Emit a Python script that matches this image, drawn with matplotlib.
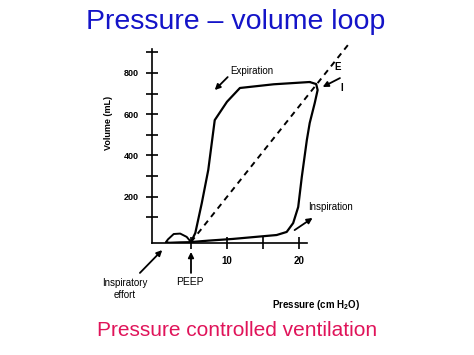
import matplotlib.pyplot as plt

# ---- data (pressure cmH2O, volume mL) ----
insp_p = [5.0, 7.5, 10.8, 14.0, 16.9, 18.3, 19.2, 19.9, 20.4, 21.1, 21.5, 22.2, 22.6, 22.4, 21.5]
insp_v = [-21, -14, -6, 4, 13, 28, 71, 149, 295, 474, 557, 654, 717, 746, 756]
exp_p = [21.5, 16.5, 11.8, 10.0, 8.3, 7.4, 6.5, 5.6, 5.0]
exp_v = [756, 745, 727, 660, 571, 329, 168, 23, -21]
effort_p = [5.0, 3.5, 2.0, 1.5, 1.8, 2.6, 3.5, 4.4, 5.0]
effort_v = [-21, -22, -24, -22, -8, 18, 20, 4, -21]
dash_p = [5.0, 26.8]
dash_v = [-21, 935]

ytick_vals = [100, 200, 300, 400, 500, 600, 700, 800, 900]
ytick_labels = ['', '200', '', '400', '', '600', '', '800', '']
xtick_vals = [5, 10, 15, 20]
xtick_labels = ['', '10', '', '20']

FONT = 'Liberation Sans'
plt.rcParams['font.family'] = [FONT, 'DejaVu Sans']
plt.rcParams['mathtext.fontset'] = 'custom'
plt.rcParams['mathtext.rm'] = FONT
plt.rcParams['mathtext.bf'] = FONT + ':bold'

fig = plt.figure(figsize=(4.74, 3.55), dpi=100)
ax = fig.add_axes([152 / 474, 1 - 243 / 355, 198 / 474, 203 / 355])
ax.set_xlim(-0.42, 27.1)
ax.set_ylim(-25.7, 960)

# loop
ax.plot(insp_p, insp_v, color='black', lw=1.6, solid_joinstyle='round', solid_capstyle='round')
ax.plot(exp_p, exp_v, color='black', lw=1.6, solid_joinstyle='round', solid_capstyle='round')
ax.plot(effort_p, effort_v, color='black', lw=1.4, solid_joinstyle='round')
ax.plot(dash_p, dash_v, color='black', lw=1.4, linestyle=(0, (3, 2.5)))

# axes styling
for s in ['top', 'right']:
    ax.spines[s].set_visible(False)
ax.spines['left'].set_bounds(-25.7, 915)
ax.spines['bottom'].set_bounds(-0.42, 21.1)
ax.spines['left'].set_linewidth(1.2)
ax.spines['bottom'].set_linewidth(1.2)
ax.set_yticks(ytick_vals)
ax.set_yticklabels(ytick_labels, fontsize=6.5, fontweight='bold')
ax.set_xticks(xtick_vals)
ax.set_xticklabels(xtick_labels, fontsize=7, fontweight='bold')
ax.tick_params(axis='both', direction='inout', length=9, width=1.2)
ax.tick_params(axis='y', pad=5)
ax.tick_params(axis='x', pad=5)

# axis labels
ax.text(-6.5, 557, 'Volume (mL)', rotation=90, ha='center', va='center',
        fontsize=6.5, fontweight='bold')
ax.text(22.4, -327, r'Pressure (cm H$_\mathbf{2}$O)', ha='center', va='center',
        fontsize=7, fontweight='bold')

# annotations
arrow = dict(arrowstyle='-|>', color='black', lw=1.3, mutation_scale=8, shrinkA=0, shrinkB=0)
ax.text(13.5, 809, 'Expiration', ha='center', va='center', fontsize=7)
ax.annotate('', xy=(8.3, 717), xytext=(10.1, 780), arrowprops=arrow, annotation_clip=False)
ax.text(25.4, 829, 'E', ha='center', va='center', fontsize=7, fontweight='bold')
ax.text(26.0, 727, 'I', ha='center', va='center', fontsize=7, fontweight='bold')
ax.annotate('', xy=(23.3, 732), xytext=(25.7, 775), arrowprops=arrow, annotation_clip=False)
ax.text(21.25, 149, 'Inspiration', ha='left', va='center', fontsize=7)
ax.annotate('', xy=(21.9, 96), xytext=(19.4, 37), arrowprops=arrow, annotation_clip=False)
ax.text(-4.2, -250, 'Inspiratory\neffort', ha='center', va='center', fontsize=7,
        linespacing=1.3)
ax.annotate('', xy=(1.0, -60), xytext=(-2.1, -171), arrowprops=arrow, annotation_clip=False)
ax.text(4.9, -215, 'PEEP', ha='center', va='center', fontsize=7.5)
ax.annotate('', xy=(5.0, -69), xytext=(5.0, -171), arrowprops=arrow, annotation_clip=False)

# titles
fig.text(236 / 474, 1 - 22 / 355, 'Pressure \u2013 volume loop', ha='center', va='center',
         fontsize=20.5, color='#1414c8')
fig.text(237.5 / 474, 1 - 330 / 355, 'Pressure controlled ventilation', ha='center',
         va='center', fontsize=15, color='#e0145a')

fig.savefig('out.png', dpi=100)
